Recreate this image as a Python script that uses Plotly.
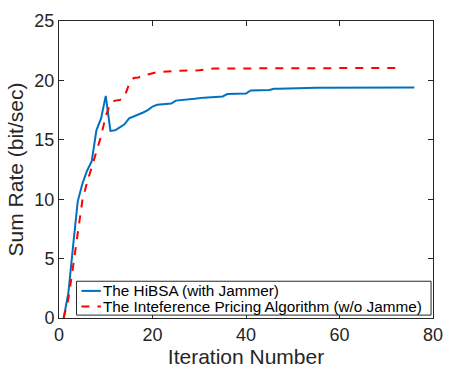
import plotly.graph_objects as go

# HiBSA (with Jammer)
hibsa_iter = [1, 2, 3, 4, 5, 6, 7, 8, 9, 10, 11, 12, 13, 14, 15, 16, 17, 18, 19, 20,
              21, 24, 25, 27, 29, 31, 34, 35, 36, 40, 41, 45, 46, 47, 55, 76]
hibsa_rate = [0, 2.1, 6.0, 9.8, 11.3, 12.4, 13.2, 15.8, 16.8, 18.7, 15.75, 15.8, 16.05, 16.3, 16.8,
              16.95, 17.1, 17.3, 17.5, 17.8, 17.95, 18.05, 18.3, 18.35, 18.45, 18.55, 18.6, 18.65,
              18.85, 18.9, 19.15, 19.2, 19.3, 19.3, 19.38, 19.4]

# Interference Pricing Algorithm (w/o Jammer)
ipa_iter = [1, 2, 3, 4, 5, 6, 7, 8, 9, 10, 11, 12, 13, 14, 15, 16, 17, 18, 19, 20, 21,
            25, 30, 33, 40, 50, 72]
ipa_rate = [0, 1.6, 4.3, 7.3, 9.9, 11.4, 12.7, 13.9, 15.3, 17.0, 18.1, 18.3, 18.35, 18.6, 19.7,
            20.2, 20.25, 20.4, 20.5, 20.6, 20.7, 20.8, 20.85, 21.0, 21.0, 21.05, 21.05]

series_names = ["The HiBSA (with Jammer)", "The Inteference Pricing Algorithm (w/o Jamme)"]
series_colors = ["#0072BD", "#FF0000"]
series_dash = ["solid", "8px,8px"]

x_ticks = [0, 20, 40, 60, 80]
y_ticks = [0, 5, 10, 15, 20, 25]

FONT = "Liberation Sans, Arial, sans-serif"
TXT = "#262626"

# figure / plot-area geometry (pixels)
W, H = 454, 371
ML, MR, MT, MB = 59, 11, 17, 47
PW, PH = W - ML - MR, H - MT - MB


def px_x(px):
    return (px - ML) / PW


def px_y(py):
    return (H - MB - py) / PH


fig = go.Figure()
for xs, ys, name, col, dsh in zip([hibsa_iter, ipa_iter], [hibsa_rate, ipa_rate],
                                   series_names, series_colors, series_dash):
    fig.add_trace(go.Scatter(x=xs, y=ys, mode="lines", name=name, showlegend=False,
                             line=dict(color=col, width=2, dash=dsh)))

axis_common = dict(showgrid=False, zeroline=False, showline=True, linecolor=TXT,
                   linewidth=1, mirror="ticks", ticks="inside", ticklen=5, tickcolor=TXT,
                   tickfont=dict(family=FONT, size=18, color=TXT))

fig.update_xaxes(range=[0, 80], tickvals=x_ticks,
                 title=dict(text="Iteration Number", standoff=1,
                            font=dict(family=FONT, size=21, color=TXT)),
                 **axis_common)
fig.update_yaxes(range=[0, 25], tickvals=y_ticks,
                 title=dict(text="Sum Rate (bit/sec)", standoff=5,
                            font=dict(family=FONT, size=21, color=TXT)),
                 **axis_common)

# custom MATLAB-style legend box (layout elements, positioned in paper coords)
shapes = [dict(type="rect", xref="paper", yref="paper",
               x0=px_x(77), x1=px_x(441), y0=px_y(321), y1=px_y(286),
               line=dict(color=TXT, width=1), fillcolor="white", layer="above")]
annotations = []
row_centers = [296, 312]
for name, col, dsh, ry in zip(series_names, series_colors, series_dash, row_centers):
    shapes.append(dict(type="line", xref="paper", yref="paper",
                       x0=px_x(82), x1=px_x(102), y0=px_y(ry), y1=px_y(ry),
                       line=dict(color=col, width=2, dash=dsh), layer="above"))
    annotations.append(dict(xref="paper", yref="paper", x=px_x(102), y=px_y(ry),
                            xanchor="left", yanchor="middle", showarrow=False, text=name,
                            font=dict(family=FONT, size=15.3, color="black")))

fig.update_layout(
    width=W, height=H,
    margin=dict(l=ML, r=MR, t=MT, b=MB),
    paper_bgcolor="white", plot_bgcolor="white",
    showlegend=False,
    shapes=shapes, annotations=annotations,
)

fig.write_html("out.html")
